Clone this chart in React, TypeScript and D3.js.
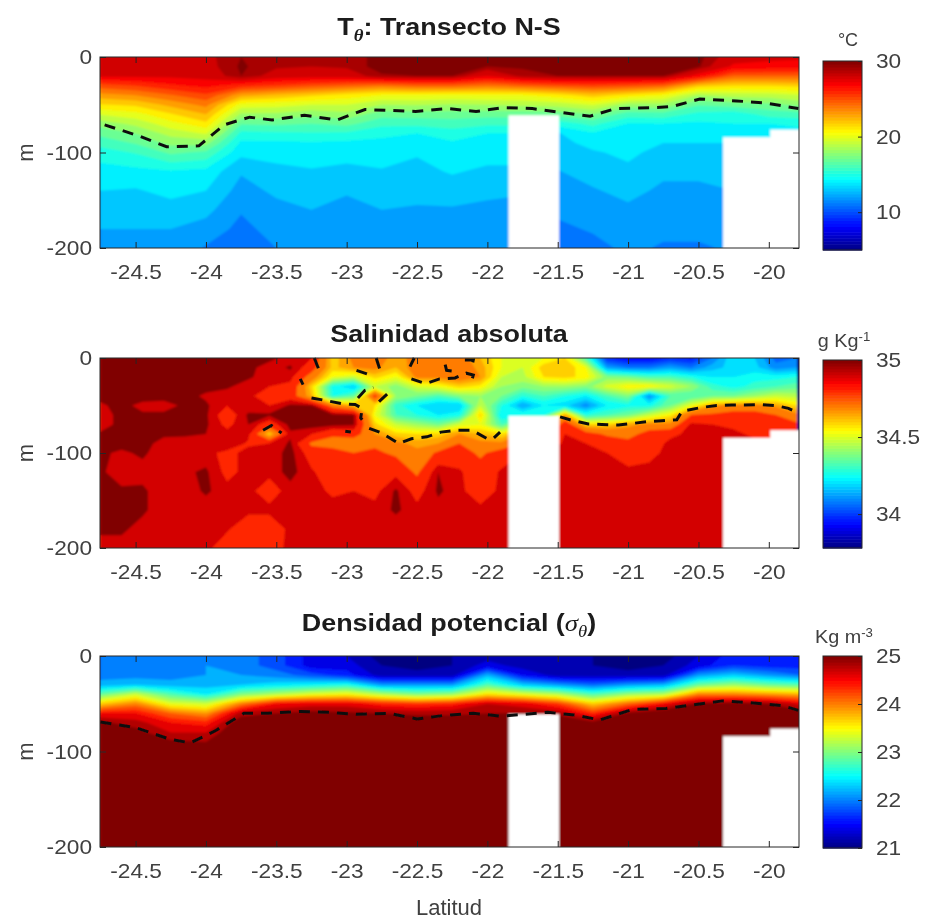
import React, { useEffect, useRef } from 'react';
import * as d3 from 'd3';

// profile depths (m, positive down) shared by the T and S tables
const depths = [0, 10, 20, 30, 40, 50, 60, 70, 80, 90, 100, 120, 140, 160, 180, 200];
const sigmaDepths = [0, 10, 20, 30, 40, 50, 60, 70, 80, 90, 200];

const tempLats = [-24.75, -24.5, -24.25, -24, -23.75, -23.5, -23.25, -23, -22.75, -22.5, -22.25, -22, -21.75, -21.5, -21.25, -21, -20.75, -20.5, -20.25, -20, -19.75];

// one profile per latitude
const tempProfiles = [
  [28.9, 28.7, 28.2, 25.5, 23.6, 21.9, 20.1, 18.4, 17.3, 16.4, 15.5, 14.6, 14, 13.5, 13, 12.6],
  [28.9, 28.7, 28.2, 26, 24, 22.2, 20.6, 19.3, 18, 17.1, 16.1, 14.7, 13.9, 13.5, 13, 12.6],
  [28.6, 28.5, 28.2, 26.8, 24.9, 23.3, 21.9, 20.6, 19.4, 18.3, 17.2, 14.9, 14.3, 13.6, 13, 12.7],
  [28.8, 28.7, 28.4, 27.3, 25.8, 24.3, 23, 21.7, 20.1, 18.4, 16.8, 14.7, 14, 13.3, 12.6, 11.9],
  [29.5, 29.6, 29.5, 26.5, 23.4, 20.6, 18.8, 17.1, 15.7, 14.8, 14.3, 13.1, 12.6, 12.1, 11.7, 11.4],
  [29, 29.1, 28.6, 26, 22.8, 20.4, 18.8, 17.2, 15.8, 14.8, 14.4, 13.7, 13.2, 12.7, 12.4, 12],
  [29, 29, 28.4, 25.5, 22.2, 20, 18.3, 17, 15.9, 14.9, 14.5, 13.9, 13.4, 13, 12.7, 12.4],
  [29.1, 29.1, 28.5, 25, 21.6, 20, 18.7, 17.3, 15.8, 14.8, 14.4, 13.7, 13.1, 12.7, 12.4, 12.1],
  [29.8, 29.8, 29.4, 24.5, 21, 19, 17.4, 16.3, 15.2, 14.8, 14.5, 13.9, 13.4, 13, 12.7, 12.4],
  [29.9, 29.8, 29.5, 25, 21, 19.1, 17.5, 16.3, 15, 14.5, 14.1, 13.7, 13.3, 12.9, 12.6, 12.3],
  [29.9, 29.8, 29.5, 25, 20.8, 18.9, 17.5, 16.5, 15.5, 14.9, 14.6, 14.1, 13.5, 12.9, 12.6, 12.3],
  [29.6, 29.5, 28, 24.5, 21, 19, 17.4, 16.2, 15, 14.7, 14.4, 13.8, 13.2, 12.8, 12.5, 12.2],
  [29.7, 29.6, 29.2, 25, 21, 19.2, 17.4, 16.2, 15, 14.7, 14.4, 13.8, 13.1, 12.7, 12.4, 12.1],
  [29.9, 29.8, 29.5, 25.5, 21.6, 19.4, 17.4, 15.4, 13.9, 13.7, 13.4, 12.95, 12.6, 12.2, 11.8, 11.5],
  [29.9, 29.8, 29.5, 25.8, 22.5, 20.1, 18, 16.3, 14.9, 14.3, 13.9, 13.4, 12.9, 12.5, 12.1, 11.7],
  [29.9, 29.8, 29.5, 25.5, 21.7, 18.6, 16.5, 14.95, 14.7, 14.5, 14.2, 13.8, 13.3, 12.8, 12.5, 12.2],
  [29.9, 29.8, 29.5, 25, 21, 18.7, 16.6, 15, 14.4, 14, 13.7, 13.2, 12.8, 12.5, 12.2, 11.9],
  [29.7, 29.6, 27.5, 22.5, 19, 17.1, 15.7, 14.8, 14.4, 14, 13.7, 13.2, 12.8, 12.5, 12.2, 11.9],
  [28.5, 27.8, 25, 22, 19.4, 17.5, 15.4, 15, 14.5, 14, 13.8, 13.4, 13, 12.7, 12.4, 12.1],
  [28.3, 27.6, 25, 22, 19.5, 17.7, 16.4, 15, 14.5, 14, 13.8, 13.4, 13, 12.7, 12.4, 12.1],
  [28.2, 27.5, 25, 22.3, 20, 18.3, 16.6, 15.3, 14.6, 14.1, 13.8, 13.4, 13, 12.7, 12.4, 12.1],
];

const salLats = [-24.75, -24.6, -24.45, -24.3, -24.15, -24, -23.85, -23.7, -23.55, -23.4, -23.25, -23.1, -22.95, -22.8, -22.65, -22.5, -22.35, -22.2, -22.05, -21.9, -21.75, -21.6, -21.45, -21.3, -21.15, -21, -20.85, -20.7, -20.55, -20.4, -20.25, -20.1, -19.95, -19.8];

const salProfiles = [
  [34.98, 34.98, 34.98, 34.98, 34.97, 34.94, 34.92, 34.92, 34.96, 34.97, 34.96, 34.96, 34.97, 34.97, 34.96, 34.93],
  [34.98, 34.98, 34.98, 34.98, 34.98, 34.97, 34.97, 34.97, 34.97, 34.97, 34.94, 34.92, 34.96, 34.97, 34.96, 34.93],
  [34.98, 34.98, 34.98, 34.98, 34.98, 34.93, 34.96, 34.97, 34.97, 34.97, 34.96, 34.93, 34.96, 34.96, 34.93, 34.92],
  [34.98, 34.98, 34.98, 34.98, 34.97, 34.93, 34.96, 34.97, 34.96, 34.93, 34.92, 34.95, 34.92, 34.92, 34.95, 34.92],
  [34.98, 34.98, 34.98, 34.98, 34.97, 34.96, 34.97, 34.97, 34.96, 34.92, 34.93, 34.94, 34.92, 34.92, 34.93, 34.92],
  [34.98, 34.98, 34.98, 34.97, 34.94, 34.96, 34.96, 34.96, 34.95, 34.92, 34.92, 34.96, 34.96, 34.92, 34.92, 34.92],
  [34.98, 34.98, 34.96, 34.96, 34.92, 34.9, 34.85, 34.88, 34.92, 34.95, 34.88, 34.88, 34.92, 34.92, 34.91, 34.85],
  [34.98, 34.97, 34.96, 34.92, 34.92, 34.92, 34.96, 34.95, 34.92, 34.89, 34.92, 34.92, 34.92, 34.92, 34.84, 34.84],
  [34.97, 34.92, 34.92, 34.9, 34.85, 34.9, 34.96, 34.85, 34.62, 34.9, 34.92, 34.92, 34.86, 34.92, 34.84, 34.86],
  [34.92, 34.96, 34.92, 34.88, 34.86, 34.96, 34.97, 34.97, 34.94, 34.96, 34.97, 34.97, 34.93, 34.92, 34.92, 34.92],
  [34.9, 34.85, 34.75, 34.62, 34.65, 34.96, 34.97, 34.98, 34.9, 34.78, 34.86, 34.91, 34.92, 34.92, 34.92, 34.92],
  [34.62, 34.63, 34.55, 34.28, 34.3, 34.75, 34.97, 34.97, 34.82, 34.75, 34.85, 34.85, 34.89, 34.92, 34.92, 34.92],
  [34.72, 34.7, 34.5, 34.2, 34.38, 34.65, 34.96, 34.96, 34.85, 34.72, 34.8, 34.84, 34.9, 34.92, 34.92, 34.92],
  [34.73, 34.72, 34.62, 34.5, 34.85, 34.6, 34.55, 34.62, 34.7, 34.78, 34.82, 34.84, 34.88, 34.92, 34.92, 34.92],
  [34.68, 34.65, 34.55, 34.42, 34.45, 34.32, 34.35, 34.5, 34.62, 34.72, 34.78, 34.88, 34.96, 34.96, 34.92, 34.92],
  [34.72, 34.74, 34.72, 34.52, 34.4, 34.25, 34.3, 34.45, 34.6, 34.68, 34.72, 34.78, 34.87, 34.92, 34.92, 34.92],
  [34.74, 34.75, 34.72, 34.55, 34.35, 34.2, 34.25, 34.4, 34.62, 34.7, 34.82, 34.95, 34.96, 34.93, 34.92, 34.92],
  [34.74, 34.75, 34.75, 34.62, 34.42, 34.2, 34.28, 34.52, 34.7, 34.8, 34.85, 34.91, 34.92, 34.92, 34.92, 34.92],
  [34.65, 34.68, 34.7, 34.58, 34.45, 34.5, 34.62, 34.55, 34.65, 34.72, 34.78, 34.85, 34.85, 34.92, 34.92, 34.92],
  [34.55, 34.55, 34.5, 34.45, 34.4, 34.3, 34.25, 34.35, 34.6, 34.72, 34.85, 34.91, 34.92, 34.92, 34.92, 34.92],
  [34.52, 34.5, 34.48, 34.42, 34.3, 34.15, 34.3, 34.5, 34.7, 34.8, 34.9, 34.92, 34.92, 34.92, 34.92, 34.92],
  [34.55, 34.63, 34.6, 34.45, 34.35, 34.25, 34.3, 34.5, 34.7, 34.8, 34.9, 34.92, 34.92, 34.92, 34.92, 34.92],
  [34.6, 34.65, 34.62, 34.45, 34.3, 34.22, 34.68, 34.88, 34.9, 34.92, 34.92, 34.92, 34.92, 34.92, 34.92, 34.92],
  [34.35, 34.55, 34.58, 34.42, 34.25, 34.12, 34.3, 34.62, 34.85, 34.9, 34.92, 34.92, 34.92, 34.92, 34.92, 34.92],
  [34, 34.15, 34.42, 34.52, 34.35, 34.25, 34.35, 34.62, 34.78, 34.88, 34.9, 34.92, 34.92, 34.92, 34.92, 34.92],
  [33.95, 34.1, 34.4, 34.58, 34.42, 34.28, 34.4, 34.68, 34.75, 34.84, 34.85, 34.92, 34.92, 34.92, 34.92, 34.92],
  [33.95, 34.1, 34.35, 34.58, 34.12, 34.28, 34.5, 34.72, 34.85, 34.85, 34.88, 34.92, 34.92, 34.92, 34.92, 34.92],
  [34, 34.15, 34.35, 34.52, 34.35, 34.4, 34.58, 34.72, 34.88, 34.92, 34.92, 34.92, 34.92, 34.92, 34.92, 34.92],
  [33.98, 34.1, 34.3, 34.45, 34.35, 34.55, 34.8, 34.92, 34.92, 34.92, 34.92, 34.92, 34.92, 34.92, 34.92, 34.92],
  [34.1, 34.18, 34.25, 34.32, 34.4, 34.68, 34.82, 34.9, 34.92, 34.92, 34.92, 34.92, 34.92, 34.92, 34.92, 34.92],
  [34.25, 34.22, 34.25, 34.28, 34.4, 34.72, 34.85, 34.88, 34.92, 34.92, 34.92, 34.92, 34.92, 34.92, 34.92, 34.92],
  [34.2, 34.22, 34.28, 34.32, 34.45, 34.72, 34.85, 34.86, 34.88, 34.92, 34.92, 34.92, 34.92, 34.92, 34.92, 34.92],
  [34.08, 34.12, 34.28, 34.35, 34.5, 34.68, 34.8, 34.85, 34.88, 34.92, 34.92, 34.92, 34.92, 34.92, 34.92, 34.92],
  [34.1, 34.15, 34.3, 34.38, 34.48, 34.6, 34.72, 34.82, 34.86, 34.92, 34.92, 34.92, 34.92, 34.92, 34.92, 34.92],
];

const sigmaProfiles = [
  [22, 22, 22.1, 22.3, 23, 23.8, 24.6, 25.05, 25.2, 25.3, 25.5],
  [22, 22, 22.1, 22.4, 23.4, 24.1, 24.6, 24.9, 25.1, 25.3, 25.5],
  [22, 22, 22.1, 22.3, 22.9, 23.5, 24.2, 24.6, 24.8, 25.05, 25.5],
  [22.2, 22.2, 22.2, 22.3, 22.6, 23.4, 24, 24.5, 24.8, 25, 25.5],
  [22.1, 22.1, 22.2, 22.4, 23.1, 24.1, 24.9, 25.2, 25.3, 25.3, 25.5],
  [21.9, 21.9, 22.1, 22.5, 23.3, 24.6, 25, 25.2, 25.3, 25.3, 25.5],
  [21.5, 21.5, 21.9, 22.6, 23.5, 24.7, 25.1, 25.2, 25.3, 25.3, 25.5],
  [21.4, 21.5, 21.7, 22.7, 23.6, 24.7, 25.05, 25.2, 25.3, 25.3, 25.5],
  [21.1, 21.2, 21.3, 22.2, 23.3, 24.5, 25, 25.2, 25.3, 25.3, 25.5],
  [21.1, 21.1, 21.3, 22.2, 23.1, 24.4, 24.95, 25.2, 25.3, 25.3, 25.5],
  [21.2, 21.2, 21.3, 22.2, 23.2, 24.5, 24.95, 25.2, 25.3, 25.3, 25.5],
  [21.3, 21.5, 22.3, 22.9, 23.7, 24.8, 25, 25.2, 25.3, 25.3, 25.5],
  [21.2, 21.3, 21.6, 22.4, 23.5, 24.7, 25, 25.2, 25.3, 25.3, 25.5],
  [21.2, 21.2, 21.3, 22.2, 23.3, 24.4, 24.95, 25.2, 25.3, 25.3, 25.5],
  [21.2, 21.2, 21.3, 22, 22.9, 23.8, 24.45, 25.1, 25.3, 25.3, 25.5],
  [21.1, 21.1, 21.3, 22.2, 23.2, 24.2, 25.05, 25.2, 25.3, 25.3, 25.5],
  [21.1, 21.2, 21.3, 22.3, 23.3, 24.6, 25.2, 25.3, 25.3, 25.3, 25.5],
  [21.4, 21.5, 22.2, 23, 24.1, 25.05, 25.2, 25.3, 25.3, 25.3, 25.5],
  [21.7, 21.8, 22.4, 23.2, 24.1, 25.1, 25.2, 25.3, 25.3, 25.3, 25.5],
  [21.6, 21.7, 22.2, 23, 24, 25, 25.2, 25.3, 25.3, 25.3, 25.5],
  [21.6, 21.7, 22, 22.9, 23.9, 24.7, 25.1, 25.3, 25.3, 25.3, 25.5],
];

// dashed contours: [lat, depth]
const tempDash = [[
  [-24.72, 71], [-24.47, 83], [-24.28, 94], [-24.05, 93], [-23.87, 71], [-23.69, 63], [-23.53, 66], [-23.3, 61], [-23.07, 66], [-22.87, 55],
  [-22.51, 57], [-22.28, 54], [-22.08, 57], [-21.88, 53], [-21.68, 54], [-21.48, 58], [-21.27, 62], [-21.09, 54], [-20.82, 53], [-20.69, 52],
  [-20.49, 44], [-20.23, 46], [-20.03, 48], [-19.79, 54],
]];

const salDash = [
  [[-23.23, 0], [-23.19, 15]],
  [[-23.33, 22], [-23.31, 28]],
  [[-23.25, 42], [-23.14, 45], [-23.04, 48], [-22.94, 49], [-22.89, 53], [-22.9, 63], [-22.89, 65]],
  [[-22.92, 42], [-22.87, 34], [-22.81, 31]],
  [[-22.77, 46], [-22.69, 35]],
  [[-23.01, 77], [-22.97, 78]],
  [[-22.84, 74], [-22.75, 79], [-22.63, 90], [-22.54, 85], [-22.43, 83], [-22.33, 78], [-22.22, 76], [-22.11, 76], [-22, 85], [-21.96, 85], [-21.91, 78]],
  [[-22.93, 13], [-22.83, 18]],
  [[-22.79, 0], [-22.76, 14]],
  [[-22.55, 9], [-22.52, 0]],
  [[-22.54, 22], [-22.44, 27], [-22.34, 22], [-22.23, 21], [-22.15, 16], [-22.1, 18], [-22.11, 23]],
  [[-22.3, 7], [-22.29, 13], [-22.23, 14]],
  [[-22.16, 2], [-22.1, 2], [-22.11, 9]],
  [[-23.594, 76], [-23.535, 71], [-23.463, 79]],
  [[-21.483, 62], [-21.389, 66], [-21.282, 69.5], [-21.187, 70], [-21.069, 70.5], [-20.974, 69], [-20.867, 67], [-20.76, 66], [-20.654, 65], [-20.618, 56.5],
    [-20.583, 55], [-20.476, 52], [-20.37, 50], [-20.263, 49.5], [-20.168, 49.5], [-20.05, 49], [-19.955, 50], [-19.86, 53], [-19.79, 58]],
];

const sigmaDash = [[
  [-24.75, 69], [-24.5, 75], [-24.26, 87], [-24.11, 91], [-23.93, 78], [-23.73, 60], [-23.56, 60], [-23.33, 58], [-23.13, 59], [-22.93, 61],
  [-22.7, 60], [-22.5, 66], [-22.3, 62], [-22.1, 60], [-21.9, 63], [-21.57, 59], [-21.37, 62], [-21.2, 67], [-20.97, 56], [-20.73, 55],
  [-20.53, 51], [-20.33, 47], [-20.13, 49], [-19.9, 52], [-19.79, 57],
]];

// white no-data blocks: [lat from, lat to, depth from]
const masks = [
  [-21.85, -21.49, 61],
  [-20.325, -19.95, 84],
  [-19.99, -19.7, 76],
];

const latTicks = [-24.5, -24, -23.5, -23, -22.5, -22, -21.5, -21, -20.5, -20];
const depthTicks = [0, 100, 200];

const tempLevels = [...d3.range(5, 30, 1), 29.5];
const salLevels = [...d3.range(33.8, 34.66, 0.05), 34.7, 34.8, 34.9, 34.95];
const sigmaLevels = [...d3.range(21, 24.95, 0.2), 25];

const ink = '#262626';
const labelInk = '#404040';
const sansFont = '"Liberation Sans", Arial, sans-serif';
const greek = '"Liberation Serif", serif';

function jet(t: number) {
  const c = (v: number) => Math.round(255 * Math.max(0, Math.min(1, v)));
  const r = Math.min(4 * t - 1.5, -4 * t + 4.5);
  const g = Math.min(4 * t - 0.5, -4 * t + 3.5);
  const b = Math.min(4 * t + 0.5, -4 * t + 2.5);
  return `rgb(${c(r)},${c(g)},${c(b)})`;
}

const left = 100, right = 799;
const xScale = d3.scaleLinear().domain([-24.5, -20]).range([135.6, 768.8]);

// the reference is stretched sideways, so widen the labels a bit
function styleLabels(g: any) {
  g.selectAll('text')
    .attr('fill', labelInk).attr('font-size', 21).attr('font-family', sansFont)
    .each(function (this: any) {
      const w = this.getComputedTextLength();
      if (w > 0) {
        this.setAttribute('textLength', w * 1.08);
        this.setAttribute('lengthAdjust', 'spacingAndGlyphs');
      }
    });
}

function Axes({ top, bottom }: any) {
  const gRef = useRef<SVGGElement>(null);
  useEffect(() => {
    const g = d3.select(gRef.current);
    g.selectAll('*').remove();
    const y = d3.scaleLinear().domain([0, 200]).range([top, bottom]);
    const fmt = (d: any) => (d === 0 ? '0' : `-${d}`);
    g.append('g').attr('transform', `translate(0,${bottom})`)
      .call(d3.axisBottom(xScale).tickValues(latTicks).tickSize(-6).tickPadding(16).tickFormat((d: any) => String(d)));
    g.append('g').attr('transform', `translate(0,${top})`)
      .call(d3.axisTop(xScale).tickValues(latTicks).tickSize(-6).tickFormat(() => ''));
    g.append('g').attr('transform', `translate(${left},0)`)
      .call(d3.axisLeft(y).tickValues(depthTicks).tickSize(-6).tickPadding(8).tickFormat(fmt));
    g.append('g').attr('transform', `translate(${right},0)`)
      .call(d3.axisRight(y).tickValues(depthTicks).tickSize(-6).tickFormat(() => ''));
    g.selectAll('.domain').remove();
    g.append('rect').attr('x', left).attr('y', top).attr('width', right - left).attr('height', bottom - top)
      .attr('fill', 'none').attr('stroke', ink);
    g.selectAll('line').attr('stroke', ink);
    styleLabels(g);
  }, [top, bottom]);
  return <g ref={gRef} />;
}

function Field({ id, lats, rows, profiles, levels, fill, top, bottom }: any) {
  const nx = lats.length, ny = rows.length;
  const values: number[] = [];
  for (let j = 0; j < ny; j++) for (let i = 0; i < nx; i++) values.push(profiles[i][j]);
  const contours = d3.contours().size([nx, ny]).thresholds(levels)(values);
  const y = d3.scaleLinear().domain([0, 200]).range([top, bottom]);
  const xi = d3.scaleLinear().domain(lats.map((_: any, i: number) => i + 0.5)).range(lats.map((l: number) => xScale(l))).clamp(true);
  const yi = d3.scaleLinear().domain(rows.map((_: any, j: number) => j + 0.5)).range(rows.map((d: number) => y(d))).clamp(true);
  const path = d3.geoPath(d3.geoTransform({
    point(px: number, py: number) { (this as any).stream.point(xi(px), yi(py)); },
  }));
  const layer = (
    <>
      <rect x={left} y={top} width={right - left} height={bottom - top} fill={fill(levels[0])} />
      {contours.map((c: any, i: number) => <path key={i} d={path(c) || ''} fill={fill(c.value)} />)}
      {masks.map((m, i) => (
        <rect key={i} x={xScale(m[0])} y={y(m[2])} width={xScale(m[1]) - xScale(m[0])} height={bottom - y(m[2]) + 2} fill="#fff" />
      ))}
    </>
  );
  return (
    <g clipPath={`url(#clip-${id})`}>
      <clipPath id={`clip-${id}`}><rect x={left} y={top} width={right - left} height={bottom - top} /></clipPath>
      {layer}
      <g filter="url(#soft)">{layer}</g>
    </g>
  );
}

function Colorbar({ top, bottom, domain, ticks }: any) {
  const gRef = useRef<SVGGElement>(null);
  const x0 = 823, x1 = 862;
  const scale = d3.scaleLinear().domain(domain).range([bottom, top]);
  const steps = d3.range(64);
  const h = (bottom - top) / 64;
  useEffect(() => {
    const g = d3.select(gRef.current);
    g.selectAll('*').remove();
    g.attr('transform', `translate(${x1},0)`)
      .call(d3.axisRight(scale).tickValues(ticks).tickSize(-4).tickPadding(14).tickFormat((d: any) => String(d)));
    g.selectAll('.domain').remove();
    g.selectAll('line').attr('stroke', ink);
    styleLabels(g);
  }, []);
  return (
    <g>
      {steps.map((s) => (
        <rect key={s} x={x0} width={x1 - x0} y={bottom - (s + 1) * h} height={h + 0.6} fill={jet((s + 0.5) / 64)} />
      ))}
      <rect x={x0} y={top} width={x1 - x0} height={bottom - top} fill="none" stroke={ink} />
      <g ref={gRef} />
    </g>
  );
}

function Dashes({ lines, top, bottom }: any) {
  const y = d3.scaleLinear().domain([0, 200]).range([top, bottom]);
  const line = d3.line().x((d: any) => xScale(d[0])).y((d: any) => y(d[1]));
  return (
    <g fill="none" stroke="#111" strokeWidth={3} strokeDasharray="11 8">
      {lines.map((l: any, i: number) => <path key={i} d={line(l) || ''} />)}
    </g>
  );
}

const tempFill = (v: number) => jet(v >= 29.5 ? 1 : (v - 5) / 25);
const salFill = (v: number) => jet(v >= 34.95 ? 1 : (v - 33.78) / 1.22);
const sigmaFill = (v: number) => jet((v - 21) / 4);

const panels = [
  { id: 'temp', top: 57, bottom: 248 },
  { id: 'sal', top: 358, bottom: 548 },
  { id: 'sigma', top: 656, bottom: 847 },
];

const titleStyle: any = { fontFamily: sansFont, fontWeight: 700, fontSize: 23, fill: '#1a1a1a', textAnchor: 'middle' };
const labelStyle: any = { fontFamily: sansFont, fontSize: 22, fill: labelInk, textAnchor: 'middle' };
const unitStyle: any = { fontFamily: sansFont, fontSize: 18, fill: labelInk, textAnchor: 'middle' };
const titleAt = (y: number) => `translate(449,${y}) scale(1.17,1)`;

export default function App() {
  const [a, b, c] = panels;
  return (
    <svg width={928} height={922} viewBox="0 0 928 922" style={{ position: 'absolute', left: 0, top: 0, background: '#fff' }}>
      <defs>
        <filter id="soft" x="-2%" y="-2%" width="104%" height="104%"><feGaussianBlur stdDeviation="0.9" /></filter>
        <filter id="page" filterUnits="userSpaceOnUse" x="0" y="0" width="928" height="922"><feGaussianBlur stdDeviation="0.45" /></filter>
      </defs>
      <g filter="url(#page)">
        <rect width={928} height={922} fill="#fff" />
        <Field id="temp" lats={tempLats} rows={depths} profiles={tempProfiles} levels={tempLevels} fill={tempFill} top={a.top} bottom={a.bottom} />
        <Dashes lines={tempDash} top={a.top} bottom={a.bottom} />
        <Axes top={a.top} bottom={a.bottom} />

        <Field id="sal" lats={salLats} rows={depths} profiles={salProfiles} levels={salLevels} fill={salFill} top={b.top} bottom={b.bottom} />
        <Dashes lines={salDash} top={b.top} bottom={b.bottom} />
        <Axes top={b.top} bottom={b.bottom} />

        <Field id="sigma" lats={tempLats} rows={sigmaDepths} profiles={sigmaProfiles} levels={sigmaLevels} fill={sigmaFill} top={c.top} bottom={c.bottom} />
        <Dashes lines={sigmaDash} top={c.top} bottom={c.bottom} />
        <Axes top={c.top} bottom={c.bottom} />

        <text transform={titleAt(35)} style={titleStyle}>
          T<tspan dy={6} fontFamily={greek} fontStyle="italic" fontSize={16}>θ</tspan><tspan dy={-6}>: Transecto N-S</tspan>
        </text>
        <text transform={titleAt(342)} style={titleStyle}>Salinidad absoluta</text>
        <text transform={titleAt(631)} style={titleStyle}>
          Densidad potencial (<tspan fontFamily={greek} fontStyle="italic" fontWeight={400}>σ</tspan><tspan dy={6} fontFamily={greek} fontStyle="italic" fontWeight={400} fontSize={16}>θ</tspan><tspan dy={-6}>)</tspan>
        </text>

        {panels.map((p) => (
          <text key={p.id} transform={`translate(33,${(p.top + p.bottom) / 2}) rotate(-90)`} style={labelStyle}>m</text>
        ))}
        <text x={449} y={915} style={labelStyle}>Latitud</text>

        <Colorbar top={61} bottom={250} domain={[5, 30]} ticks={[10, 20, 30]} />
        <Colorbar top={360} bottom={548} domain={[33.78, 35]} ticks={[34, 34.5, 35]} />
        <Colorbar top={656} bottom={848} domain={[21, 25]} ticks={[21, 22, 23, 24, 25]} />

        <text x={848} y={46} style={unitStyle}>°C</text>
        <text transform="translate(844,347) scale(1.1,1)" style={unitStyle}>g Kg<tspan dy={-6} fontSize={12}>-1</tspan></text>
        <text transform="translate(844,643) scale(1.1,1)" style={unitStyle}>Kg m<tspan dy={-6} fontSize={12}>-3</tspan></text>
      </g>
    </svg>
  );
}
